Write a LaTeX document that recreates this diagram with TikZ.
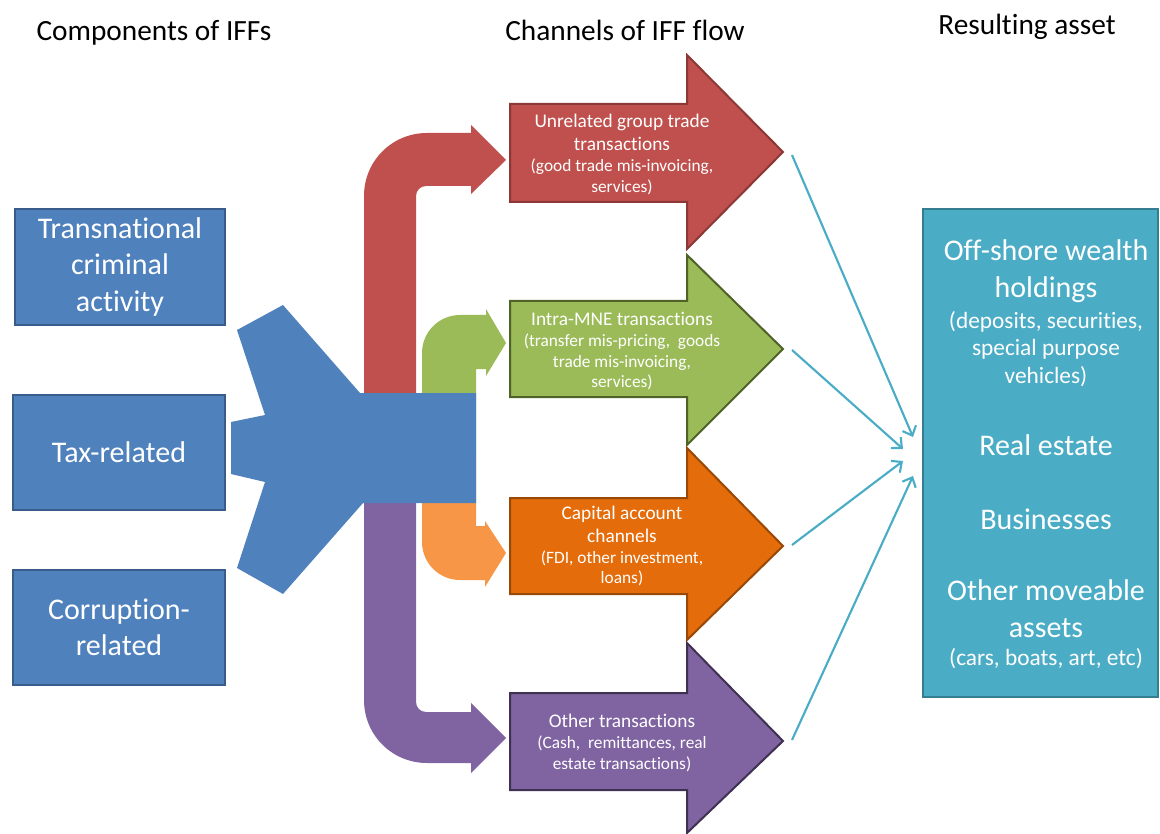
\documentclass[tikz,border=0pt]{standalone}
\usepackage{fontspec}
\setmainfont{Carlito}[Ligatures=NoCommon]
\usetikzlibrary{arrows.meta}
\definecolor{boxblue}{HTML}{4F81BD}
\definecolor{boxblueD}{HTML}{385D8A}
\definecolor{cred}{HTML}{C0504D}
\definecolor{credD}{HTML}{8C3836}
\definecolor{cgreen}{HTML}{9BBB59}
\definecolor{cgreenD}{HTML}{4F6228}
\definecolor{corange}{HTML}{E46C0A}
\definecolor{corangeD}{HTML}{984807}
\definecolor{lorange}{HTML}{F79646}
\definecolor{cpurple}{HTML}{8064A2}
\definecolor{cpurpleD}{HTML}{3F3151}
\definecolor{ccyan}{HTML}{4BACC6}
\definecolor{ccyanD}{HTML}{357D91}
\begin{document}
\begin{tikzpicture}[x=0.75pt,y=-0.75pt,
  header/.style={font=\fontsize{22}{26}\selectfont, text=black, inner sep=0pt},
  compbox/.style={draw=boxblueD, line width=1.5pt, fill=boxblue, inner sep=0pt,
    text=white, align=center, font=\fontsize{22.5}{27.4}\selectfont},
  chan/.style={line width=1.5pt, line join=miter},
  chantitle/.style={text=white, align=center, inner sep=0pt, font=\fontsize{14.5}{17}\selectfont},
  chansub/.style={text=white, align=center, inner sep=0pt, font=\fontsize{13}{15.5}\selectfont},
  assettitle/.style={text=white, align=center, inner sep=0pt, font=\fontsize{22.5}{27.75}\selectfont},
  assetsub/.style={text=white, align=center, inner sep=0pt, font=\fontsize{17.5}{20.6}\selectfont},
  flow/.style={draw=ccyan, line width=1.6pt, -{Straight Barb[length=6pt,width=11pt]}},
]
\useasboundingbox (0,0) rectangle (1160,834);

% headers
\node[header] (h1) at (154,33) {Components of IFFs};
\node[header] (h2) at (625,30) {Channels of IFF flow};
\node[header] (h3) at (1027,27) {Resulting asset};

% component boxes
\node[compbox, minimum width=157.5pt, minimum height=87pt] (c1) at (120,267) {Transnational\\criminal\\activity};
\node[compbox, minimum width=159pt, minimum height=86.25pt] (c2) at (119,452.5) {Tax-related};
\node[compbox, minimum width=159pt, minimum height=86.25pt] (c3) at (119,627.5) {Corruption-\\related};

% bent arrows (red, purple)
\fill[cred] (364,450) -- (364,196) .. controls (364,161) and (392,133) .. (427,133)
  -- (471,133) -- (471,125) -- (506,160) -- (471,194) -- (471,186) -- (426,186)
  .. controls (420.5,186) and (416,190.5) .. (416,196) -- (416,450) -- cycle;
\fill[cpurple] (364,450) -- (364,700) .. controls (364,735) and (392,763) .. (427,763)
  -- (471,763) -- (471,773) -- (506,738) -- (471,703) -- (471,712) -- (426,712)
  .. controls (420.5,712) and (416,707.5) .. (416,702) -- (416,450) -- cycle;
% bent arrows (green, orange)
\fill[cgreen] (422,450) -- (422,353) .. controls (422,332) and (439,315) .. (460,315)
  -- (486,315) -- (486,309) -- (506,343) -- (486,376) -- (486,369) -- (476,369) -- (476,450) -- cycle;
\fill[lorange] (422,450) -- (422,542) .. controls (422,563) and (439,580) .. (460,580)
  -- (485,580) -- (485,587) -- (506,553) -- (485,521) -- (485,526) -- (476,526) -- (476,450) -- cycle;

% merging blue shape
\fill[boxblue] (283,305) -- (360,393) -- (476,393) -- (476,503) -- (363,503) -- (283,594)
  -- (237,568) -- (265,482) -- (231,474) -- (231,422) -- (265,415) -- (237,330) -- cycle;

% channel arrows
\draw[chan, fill=cred, draw=credD] (510,104) -- (687,104) -- (687,55) -- (783,152)
  -- (687,249) -- (687,202) -- (510,202) -- cycle;
\draw[chan, fill=cgreen, draw=cgreenD] (510,301) -- (687,301) -- (687,255) -- (783,349)
  -- (687,445) -- (687,397) -- (510,397) -- cycle;
\draw[chan, fill=corange, draw=corangeD] (510,498) -- (687,498) -- (687,448) -- (783,546)
  -- (687,640) -- (687,594) -- (510,594) -- cycle;
\draw[chan, fill=cpurple, draw=cpurpleD] (510,693) -- (687,693) -- (687,643) -- (783,741)
  -- (687,833) -- (687,790) -- (510,790) -- cycle;

% channel texts
\node[chantitle] (t1) at (622,132.5) {Unrelated group trade\\transactions};
\node[chansub] (s1) at (622,177) {(good trade mis-invoicing,\\services)};
\node[chantitle] (t2) at (622,319) {Intra-MNE transactions};
\node[chansub] (s2) at (622,362) {(transfer mis-pricing,\ \ goods\\trade mis-invoicing,\\services)};
\node[chantitle] (t3) at (622,524.5) {Capital account\\channels};
\node[chansub] (s3) at (622,568.5) {(FDI, other investment,\\loans)};
\node[chantitle] (t4) at (622,721) {Other transactions};
\node[chansub] (s4) at (622,754) {(Cash,\ \ remittances, real\\estate transactions)};

% asset box
\node[draw=ccyanD, fill=ccyan, line width=1.5pt, minimum width=176.25pt, minimum height=366pt, inner sep=0pt] (asset) at (1040.5,453) {};
\node[assettitle] (a1) at (1046,271.5) {Off-shore wealth\\holdings};
\node[assetsub] (a1s) at (1046,349) {(deposits, securities,\\special purpose\\vehicles)};
\node[assettitle] (a2) at (1046,445) {Real estate};
\node[assettitle] (a3) at (1046,519) {Businesses};
\node[assettitle] (a4) at (1046,608.5) {Other moveable\\assets};
\node[assetsub] (a4s) at (1046,659) {(cars, boats, art, etc)};

% connectors
\coordinate (p1) at (792,155);
\coordinate (p2) at (792,350);
\coordinate (p3) at (792,545);
\coordinate (p4) at (792,740);
\coordinate (q1) at (913,437);
\coordinate (q2) at (903,449);
\coordinate (q3) at (903,461);
\coordinate (q4) at (913,476);
\draw[flow] (p1) -- (q1);
\draw[flow] (p2) -- (q2);
\draw[flow] (p3) -- (q3);
\draw[flow] (p4) -- (q4);
\end{tikzpicture}
\end{document}
